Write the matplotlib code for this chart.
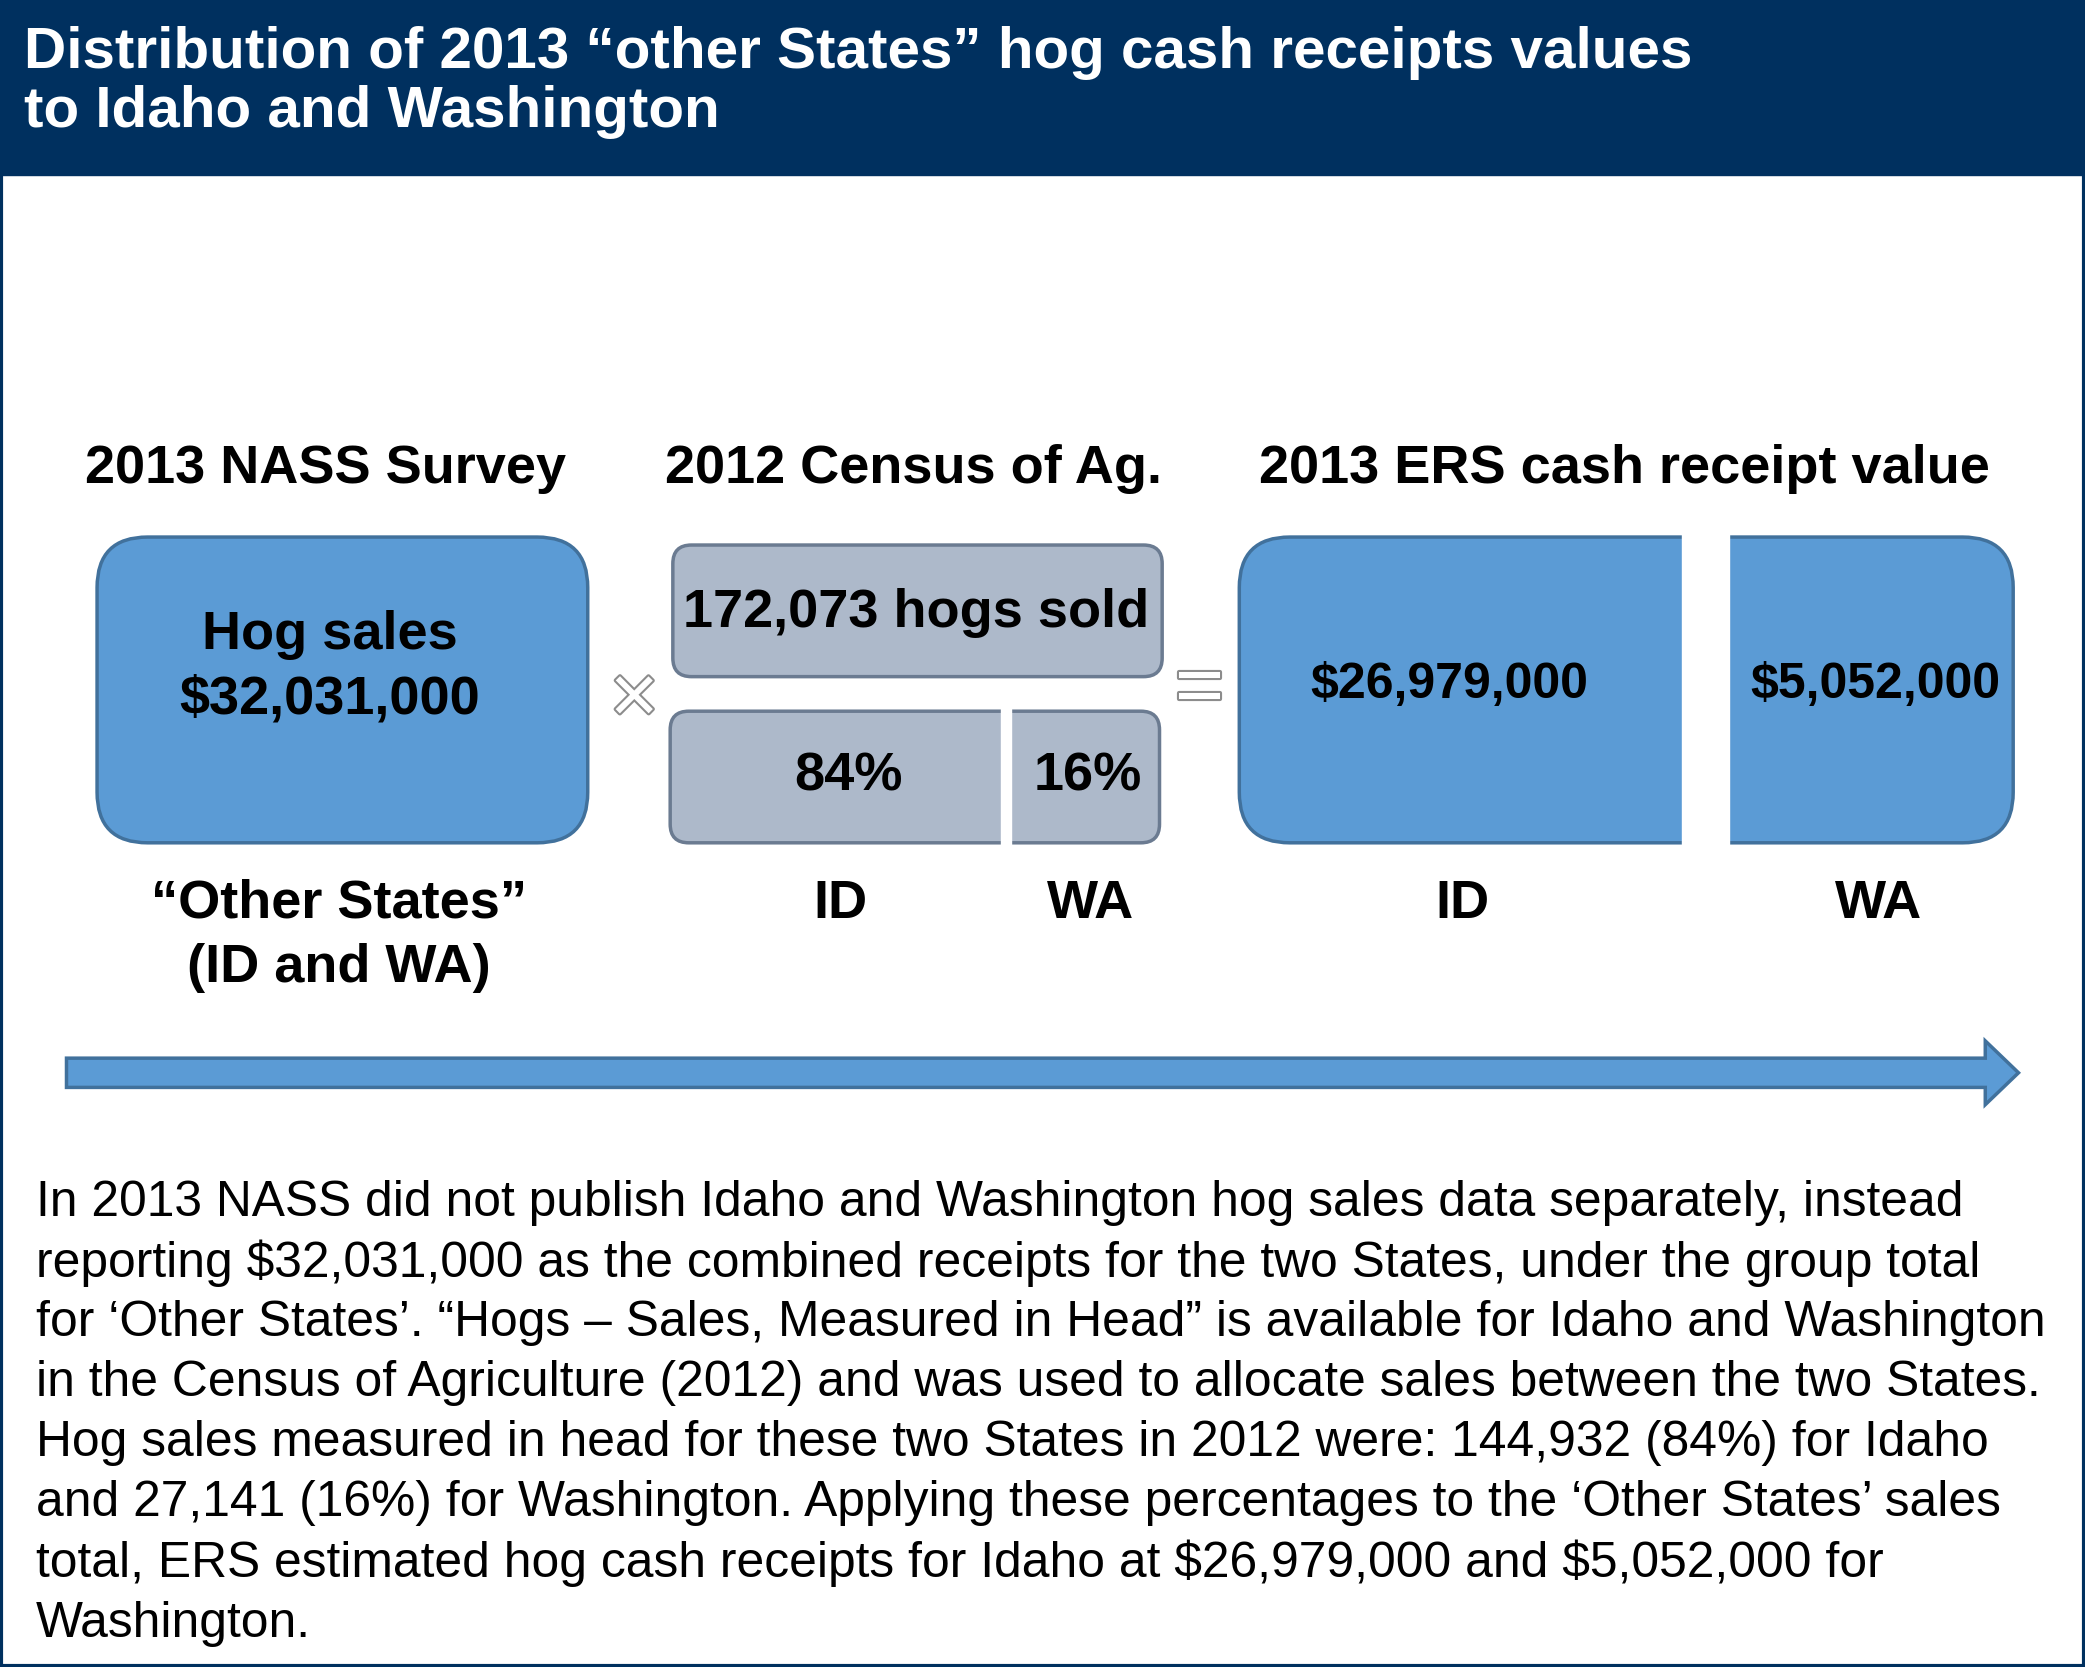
import matplotlib.pyplot as plt
from matplotlib.patches import FancyBboxPatch, Rectangle, FancyArrow
import matplotlib.patheffects as pe

plt.rcParams['font.family'] = ['Liberation Sans', 'DejaVu Sans']
plt.rcParams['text.parse_math'] = False

title_lines = ['Distribution of 2013 \u201cother States\u201d hog cash receipts values',
               'to Idaho and Washington']
headings = ['2013 NASS Survey', '2012 Census of Ag.', '2013 ERS cash receipt value']
total_sales = '$32,031,000'
hogs_sold = '172,073 hogs sold'
shares = ['84%', '16%']
ers_values = ['$26,979,000', '$5,052,000']
states = ['ID', 'WA']
para = [
    'In 2013 NASS did not publish Idaho and Washington hog sales data separately, instead',
    'reporting $32,031,000 as the combined receipts for the two States, under the group total',
    'for \u2018Other States\u2019. \u201cHogs \u2013 Sales, Measured in Head\u201d is available for Idaho and Washington',
    'in the Census of Agriculture (2012) and was used to allocate sales between the two States.',
    'Hog sales measured in head for these two States in 2012 were: 144,932 (84%) for Idaho',
    'and 27,141 (16%) for Washington. Applying these percentages to the \u2018Other States\u2019 sales',
    'total, ERS estimated hog cash receipts for Idaho at $26,979,000 and $5,052,000 for',
    'Washington.',
]

navy = '#00305f'
blue = '#5b9bd5'
blue_edge = '#41719c'
gray = '#adb9ca'
gray_edge = '#6b7b91'

fig = plt.figure(figsize=(20.85, 16.67), dpi=100)
ax = fig.add_axes([0, 0, 1, 1])
ax.set_xlim(0, 1568)
ax.set_ylim(1254, 0)
ax.axis('off')

ax.add_patch(Rectangle((0, 0), 1568, 132, color=navy))
ax.add_patch(Rectangle((1, 1), 1566, 1252, fill=False, ec=navy, lw=3))
ax.text(18, 40, title_lines[0], color='white', fontsize=42, fontweight='bold', va='center')
ax.text(18, 84, title_lines[1], color='white', fontsize=42, fontweight='bold', va='center')

for x, h in zip([245, 687, 1222], headings):
    ax.text(x, 353, h, fontsize=39, fontweight='bold', ha='center', va='center')


def rbox(x0, y0, x1, y1, fc, ec, r):
    ax.add_patch(FancyBboxPatch((x0 + r, y0 + r), x1 - x0 - 2 * r, y1 - y0 - 2 * r,
                                boxstyle=f'round,pad={r}', fc=fc, ec=ec, lw=2.5))


rbox(73, 404, 442, 634, blue, blue_edge, 38)
ax.text(248, 478, 'Hog sales', fontsize=39, fontweight='bold', ha='center', va='center')
ax.text(248, 526, total_sales, fontsize=39, fontweight='bold', ha='center', va='center')

rbox(506, 410, 874, 509, gray, gray_edge, 14)
ax.text(689, 461, hogs_sold, fontsize=39, fontweight='bold', ha='center', va='center')
rbox(504, 535, 872, 634, gray, gray_edge, 14)
ax.add_patch(Rectangle((753, 532), 7, 106, color='white'))
ax.text(638, 584, shares[0], fontsize=39, fontweight='bold', ha='center', va='center')
ax.text(818, 584, shares[1], fontsize=39, fontweight='bold', ha='center', va='center')

rbox(932, 404, 1514, 634, blue, blue_edge, 38)
ax.add_patch(Rectangle((1265, 400), 35, 240, color='white'))
ax.text(1090, 515, ers_values[0], fontsize=36, fontweight='bold', ha='center', va='center')
ax.text(1410, 515, ers_values[1], fontsize=36, fontweight='bold', ha='center', va='center')

sym = [pe.withStroke(linewidth=3, foreground='#8c8c8c')]
ax.text(477, 527, '\u00d7', fontsize=60, color='white', ha='center', va='center', path_effects=sym)
ax.text(902, 520, '=', fontsize=60, color='white', ha='center', va='center', path_effects=sym)

ax.text(255, 680, '\u201cOther States\u201d', fontsize=39, fontweight='bold', ha='center', va='center')
ax.text(255, 728, '(ID and WA)', fontsize=39, fontweight='bold', ha='center', va='center')
for x, s in zip([632, 820, 1100, 1413], states * 2):
    ax.text(x, 680, s, fontsize=39, fontweight='bold', ha='center', va='center')

ax.add_patch(FancyArrow(50, 807, 1468, 0, width=22, head_width=48, head_length=25,
                        length_includes_head=True, fc=blue, ec=blue_edge, lw=2.5))

for i, line in enumerate(para):
    ax.text(27, 905 + i * 45.2, line, fontsize=35.8, va='center')

fig.savefig('out.png', dpi=100)
